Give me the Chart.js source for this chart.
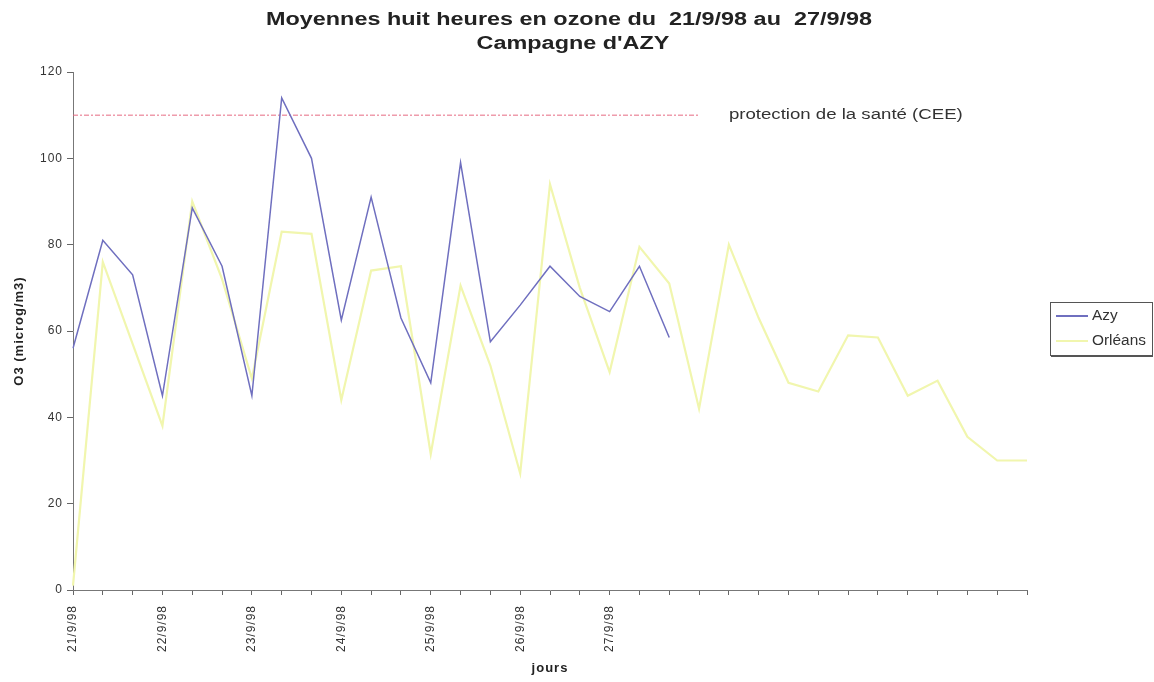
<!DOCTYPE html>
<html>
<head>
<meta charset="utf-8">
<script src="https://cdn.jsdelivr.net/npm/chart.js@4"></script>
<style>
  html, body { margin: 0; padding: 0; background: #fff; }
  #wrap { width: 1154px; height: 682px; }
</style>
</head>
<body>
<div id="wrap"><canvas id="chart-1"></canvas></div>
<script>
// 33 points, three per day, only one label per day
const jours = ['21/9/98','','','22/9/98','','','23/9/98','','','24/9/98','','','25/9/98','','',
  '26/9/98','','','27/9/98','','','','','','','','','','','','','',''];

const azy = [56, 81, 73, 45, 88.5, 75, 45, 114, 100, 62.5, 91, 63, 48, 99, 57.5, 66, 75, 68, 64.5, 75, 58.5,
  null, null, null, null, null, null, null, null, null, null, null, null];

const orleans = [1, 76, 57, 38, 90, 72, 49, 83, 82.5, 44, 74, 75, 31.5, 70.5, 52, 27, 94, 70, 50.5, 79.5, 71,
  42, 80, 63, 48, 46, 59, 58.5, 45, 48.5, 35.5, 30, 30];

const seuil = [110, 110, 110, 110, 110, 110, 110, 110, 110, 110, 110, 110, 110, 110, 110, 110, 110, 110, 110, 110, 110, 110,
  null, null, null, null, null, null, null, null, null, null, null];

const yTicks = [0, 20, 40, 60, 80, 100, 120];

const titre = ['Moyennes huit heures en ozone du  21/9/98 au  27/9/98', "Campagne d'AZY"];

const textColor = '#333';
const fam = '"Liberation Sans", Arial, sans-serif';

// text stretched sideways, like the scanned original
function wideText(c, txt, x, y, sx, align) {
  c.save();
  c.translate(x, y);
  c.scale(sx, 1);
  c.textAlign = align;
  c.fillText(txt, 0, 0);
  c.restore();
}

const extras = {
  id: 'extras',
  beforeLayout(chart) { chart.ctx.letterSpacing = '1px'; },
  beforeDraw(chart) { chart.ctx.letterSpacing = '1px'; },
  afterDraw(chart) {
    const c = chart.ctx;
    const x = chart.scales.x, y = chart.scales.y;
    c.save();
    c.letterSpacing = '0px';
    c.textBaseline = 'middle';

    // title
    c.fillStyle = '#222';
    c.font = 'bold 18px ' + fam;
    wideText(c, titre[0], 569, 20, 1.3, 'center');
    wideText(c, titre[1], 573, 44, 1.3, 'center');

    // label of the reference line
    c.fillStyle = textColor;
    c.font = '14px ' + fam;
    wideText(c, 'protection de la santé (CEE)', x.getPixelForValue(22), y.getPixelForValue(110), 1.33, 'left');

    // legend box
    const bx = 1050, by = 302, bw = 102, bh = 53;
    c.strokeStyle = '#555';
    c.lineWidth = 1;
    c.strokeRect(bx + 0.5, by + 0.5, bw, bh);
    c.beginPath();
    c.moveTo(bx + 1, by + bh + 1.5);
    c.lineTo(bx + bw + 1, by + bh + 1.5);
    c.stroke();
    const ds = chart.data.datasets;
    c.font = '14px ' + fam;
    [0, 1].forEach((k, i) => {
      const ly = by + 14 + i * 25;
      c.strokeStyle = ds[k].borderColor;
      c.lineWidth = 2;
      c.beginPath();
      c.moveTo(bx + 6, ly);
      c.lineTo(bx + 38, ly);
      c.stroke();
      c.fillStyle = textColor;
      wideText(c, ds[k].label, bx + 42, ly, 1.1, 'left');
    });
    c.restore();
  }
};

new Chart(document.getElementById('chart-1'), {
  type: 'line',
  data: {
    labels: jours,
    datasets: [
      { label: 'Azy', data: azy, borderColor: '#6f6fbf', borderWidth: 1.5, pointRadius: 0, tension: 0 },
      { label: 'Orléans', data: orleans, borderColor: '#f1f6ae', borderWidth: 2.2, pointRadius: 0, tension: 0 },
      { label: 'protection', data: seuil, borderColor: '#e66a82', borderWidth: 1, borderDash: [5, 2, 2, 2], pointRadius: 0 }
    ]
  },
  options: {
    responsive: true,
    maintainAspectRatio: false,
    animation: false,
    layout: { padding: { left: 0, right: 127, top: 72, bottom: 2 } },
    plugins: {
      legend: { display: false },
      tooltip: { enabled: false },
      title: { display: false }
    },
    scales: {
      x: {
        offset: false,
        grid: { display: true, drawOnChartArea: false, drawTicks: true, tickLength: 5, color: '#666' },
        border: { color: '#777', width: 1 },
        ticks: {
          autoSkip: false, maxRotation: 90, minRotation: 90, color: textColor, padding: 10,
          font: { family: fam, size: 12 }
        },
        title: {
          display: true, text: 'jours', color: '#222',
          font: { family: fam, size: 13, weight: 'bold' }
        },
        afterFit(scale) { scale.height = 90; }
      },
      y: {
        min: 0, max: 120,
        afterBuildTicks(scale) { scale.ticks = yTicks.map(v => ({ value: v })); },
        grid: { display: true, drawOnChartArea: false, drawTicks: true, tickLength: 6, color: '#666' },
        border: { color: '#777', width: 1 },
        ticks: {
          color: textColor, padding: 4,
          font: { family: fam, size: 12 }
        },
        title: {
          display: true, text: 'O3 (microg/m3)', color: '#222', padding: { top: 12, bottom: 4 },
          font: { family: fam, size: 13, weight: 'bold' }
        },
        afterFit(scale) { scale.width = 73; }
      }
    }
  },
  plugins: [extras]
});
</script>
</body>
</html>
